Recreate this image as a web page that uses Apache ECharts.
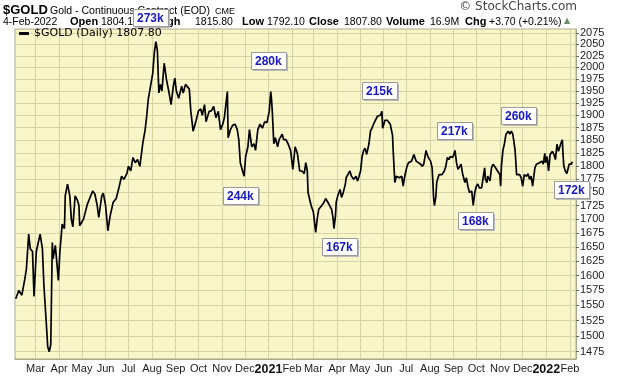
<!DOCTYPE html>
<html>
<head>
<meta charset="utf-8">
<script src="https://cdn.jsdelivr.net/npm/echarts@6/dist/echarts.min.js"></script>
<style>
html, body { margin: 0; padding: 0; background: #fff; }
#chart { width: 620px; height: 376px; }
</style>
</head>
<body>
<div id="chart"></div>
<script>
// $GOLD daily close
var dates = [
  '2020-02-04', '2020-02-08', '2020-02-12', '2020-02-16', '2020-02-18', '2020-02-21', '2020-02-23', '2020-02-26', '2020-02-28',
  '2020-03-02', '2020-03-07', '2020-03-10', '2020-03-12', '2020-03-15', '2020-03-17', '2020-03-19', '2020-03-21', '2020-03-23',
  '2020-03-24', '2020-03-27', '2020-03-31', '2020-04-02', '2020-04-05', '2020-04-08', '2020-04-09', '2020-04-12', '2020-04-15',
  '2020-04-17', '2020-04-19', '2020-04-22', '2020-04-25', '2020-04-27', '2020-04-28', '2020-05-03', '2020-05-08', '2020-05-15',
  '2020-05-18', '2020-05-21', '2020-05-23', '2020-05-27', '2020-05-29', '2020-06-01', '2020-06-04', '2020-06-07', '2020-06-11',
  '2020-06-15', '2020-06-19', '2020-06-22', '2020-06-25', '2020-06-29', '2020-07-01', '2020-07-04', '2020-07-07', '2020-07-10',
  '2020-07-13', '2020-07-16', '2020-07-20', '2020-07-23', '2020-07-25', '2020-07-27', '2020-07-30', '2020-08-02', '2020-08-04',
  '2020-08-06', '2020-08-08', '2020-08-10', '2020-08-12', '2020-08-14', '2020-08-17', '2020-08-20', '2020-08-23', '2020-08-26',
  '2020-08-29', '2020-08-31', '2020-09-02', '2020-09-05', '2020-09-09', '2020-09-11', '2020-09-14', '2020-09-19', '2020-09-21',
  '2020-09-24', '2020-09-26', '2020-09-28', '2020-10-01', '2020-10-04', '2020-10-06', '2020-10-09', '2020-10-11', '2020-10-15',
  '2020-10-18', '2020-10-21', '2020-10-24', '2020-10-27', '2020-10-30', '2020-11-02', '2020-11-04', '2020-11-08', '2020-11-09',
  '2020-11-12', '2020-11-15', '2020-11-18', '2020-11-21', '2020-11-23', '2020-11-25', '2020-11-28', '2020-11-30', '2020-12-02',
  '2020-12-05', '2020-12-07', '2020-12-10', '2020-12-13', '2020-12-15', '2020-12-18', '2020-12-21', '2020-12-24', '2020-12-27',
  '2020-12-30', '2021-01-02', '2021-01-04', '2021-01-05', '2021-01-06', '2021-01-08', '2021-01-10', '2021-01-13', '2021-01-15',
  '2021-01-19', '2021-01-21', '2021-01-24', '2021-01-27', '2021-01-30', '2021-02-02', '2021-02-05', '2021-02-08', '2021-02-11',
  '2021-02-14', '2021-02-17', '2021-02-19', '2021-02-21', '2021-02-22', '2021-02-25', '2021-02-26', '2021-03-01', '2021-03-04',
  '2021-03-06', '2021-03-08', '2021-03-12', '2021-03-15', '2021-03-17', '2021-03-20', '2021-03-25', '2021-03-27', '2021-03-28',
  '2021-03-30', '2021-03-31', '2021-04-02', '2021-04-05', '2021-04-07', '2021-04-09', '2021-04-12', '2021-04-13', '2021-04-15',
  '2021-04-18', '2021-04-20', '2021-04-23', '2021-04-26', '2021-04-28', '2021-04-30', '2021-05-02', '2021-05-04', '2021-05-06',
  '2021-05-08', '2021-05-10', '2021-05-13', '2021-05-15', '2021-05-17', '2021-05-19', '2021-05-21', '2021-05-24', '2021-05-26',
  '2021-05-28', '2021-05-30', '2021-05-31', '2021-06-03', '2021-06-06', '2021-06-08', '2021-06-10', '2021-06-13', '2021-06-14',
  '2021-06-16', '2021-06-18', '2021-06-20', '2021-06-22', '2021-06-25', '2021-06-27', '2021-06-29', '2021-07-02', '2021-07-04',
  '2021-07-08', '2021-07-11', '2021-07-12', '2021-07-14', '2021-07-16', '2021-07-20', '2021-07-22', '2021-07-24', '2021-07-27',
  '2021-07-28', '2021-07-30', '2021-08-02', '2021-08-04', '2021-08-05', '2021-08-06', '2021-08-07', '2021-08-09', '2021-08-10',
  '2021-08-13', '2021-08-15', '2021-08-17', '2021-08-20', '2021-08-22', '2021-08-24', '2021-08-26', '2021-08-28', '2021-08-31',
  '2021-09-02', '2021-09-03', '2021-09-05', '2021-09-07', '2021-09-09', '2021-09-11', '2021-09-13', '2021-09-16', '2021-09-18',
  '2021-09-20', '2021-09-22', '2021-09-25', '2021-09-27', '2021-09-29', '2021-10-01', '2021-10-03', '2021-10-05', '2021-10-08',
  '2021-10-10', '2021-10-12', '2021-10-13', '2021-10-15', '2021-10-16', '2021-10-19', '2021-10-21', '2021-10-23', '2021-10-25',
  '2021-10-27', '2021-10-29', '2021-11-01', '2021-11-02', '2021-11-03', '2021-11-05', '2021-11-07', '2021-11-09', '2021-11-12',
  '2021-11-14', '2021-11-16', '2021-11-18', '2021-11-19', '2021-11-21', '2021-11-23', '2021-11-25', '2021-11-27', '2021-11-29',
  '2021-12-01', '2021-12-03', '2021-12-06', '2021-12-08', '2021-12-10', '2021-12-12', '2021-12-14', '2021-12-17', '2021-12-19',
  '2021-12-21', '2021-12-23', '2021-12-26', '2021-12-28', '2021-12-30', '2021-12-31', '2022-01-02', '2022-01-04', '2022-01-06',
  '2022-01-09', '2022-01-11', '2022-01-13', '2022-01-15', '2022-01-17', '2022-01-20', '2022-01-22', '2022-01-23', '2022-01-24',
  '2022-01-26', '2022-01-28', '2022-01-31', '2022-02-01', '2022-02-03', '2022-02-04'
]
var closes = [
  1561, 1575, 1567, 1595, 1612, 1673, 1647, 1642, 1565,
  1642, 1673, 1647, 1583, 1523, 1483, 1475, 1486, 1658,
  1629, 1653, 1592, 1642, 1691, 1683, 1743, 1765, 1743,
  1700, 1686, 1743, 1735, 1725, 1688, 1700, 1727, 1752,
  1746, 1725, 1703, 1743, 1748, 1725, 1679, 1706, 1731,
  1738, 1761, 1780, 1774, 1785, 1799, 1790, 1816, 1806,
  1812, 1799, 1845, 1871, 1898, 1932, 1960, 1988, 2031,
  2056, 2038, 1946, 1964, 1950, 2009, 1974, 1950, 1922,
  1960, 1977, 1950, 1935, 1960, 1946, 1964, 1954, 1908,
  1868, 1871, 1890, 1909, 1913, 1900, 1922, 1887, 1908,
  1909, 1918, 1895, 1908, 1871, 1882, 1895, 1949, 1855,
  1871, 1880, 1882, 1871, 1851, 1806, 1790, 1780, 1818,
  1837, 1871, 1837, 1843, 1830, 1871, 1882, 1874, 1887,
  1885, 1908, 1949, 1933, 1908, 1843, 1855, 1837, 1851,
  1862, 1851, 1851, 1842, 1830, 1793, 1837, 1824, 1790,
  1790, 1785, 1806, 1790, 1749, 1731, 1725, 1713, 1676,
  1700, 1718, 1725, 1731, 1738, 1731, 1718, 1700, 1683,
  1706, 1731, 1743, 1755, 1740, 1748, 1765, 1777, 1780,
  1790, 1780, 1774, 1780, 1771, 1780, 1790, 1818, 1830,
  1834, 1822, 1843, 1868, 1874, 1882, 1885, 1898, 1895,
  1900, 1908, 1874, 1890, 1890, 1890, 1882, 1859, 1824,
  1768, 1780, 1780, 1777, 1780, 1761, 1780, 1799, 1806,
  1809, 1822, 1824, 1809, 1806, 1803, 1799, 1803, 1830,
  1824, 1816, 1809, 1796, 1768, 1738, 1725, 1743, 1768,
  1783, 1785, 1783, 1790, 1799, 1816, 1812, 1818, 1816,
  1824, 1830, 1806, 1793, 1796, 1803, 1785, 1768, 1777,
  1761, 1749, 1752, 1725, 1749, 1761, 1765, 1758, 1758,
  1755, 1796, 1774, 1768, 1780, 1771, 1796, 1803, 1799,
  1796, 1790, 1783, 1761, 1799, 1830, 1843, 1862, 1868,
  1862, 1868, 1862, 1851, 1830, 1783, 1780, 1783, 1777,
  1761, 1783, 1780, 1785, 1774, 1780, 1761, 1796, 1803,
  1800, 1806, 1809, 1803, 1824, 1806, 1818, 1790, 1822,
  1828, 1822, 1812, 1842, 1828, 1843, 1851, 1822, 1799,
  1790, 1785, 1803, 1806, 1803, 1807.8
]
var priceTicks = [1475, 1500, 1525, 1550, 1575, 1600, 1625, 1650, 1675, 1700, 1725, 1750, 1775,
  1800, 1825, 1850, 1875, 1900, 1925, 1950, 1975, 2000, 2025, 2050, 2075]
var monthTicks = ['2020-03-01', '2020-04-01', '2020-05-01', '2020-06-01', '2020-07-01', '2020-08-01',
  '2020-09-01', '2020-10-01', '2020-11-01', '2020-12-01', '2021-01-01', '2021-02-01', '2021-03-01',
  '2021-04-01', '2021-05-01', '2021-06-01', '2021-07-01', '2021-08-01', '2021-09-01', '2021-10-01',
  '2021-11-01', '2021-12-01', '2022-01-01', '2022-02-01']
var monthNames = ['Jan', 'Feb', 'Mar', 'Apr', 'May', 'Jun', 'Jul', 'Aug', 'Sep', 'Oct', 'Nov', 'Dec']
var volumeNotes = ['273k', '280k', '244k', '215k', '167k', '217k', '260k', '168k', '172k']

var myChart = echarts.init(document.getElementById('chart'))

function toTime (d) {
  return new Date(d + 'T00:00:00Z').getTime()
}

function noteBox (label, x, y) {
  return {
    type: 'group',
    x: x,
    y: y,
    children: [
      { type: 'rect', z: 100, shape: { x: 2, y: 2, width: 35, height: 17 }, style: { fill: '#b8b8b8' } },
      { type: 'rect', z: 101, shape: { x: 0.5, y: 0.5, width: 35, height: 17 }, style: { fill: '#fff', stroke: '#9a9a9a', lineWidth: 1 } },
      {
        type: 'text',
        z: 102,
        x: 4,
        y: 9.5,
        style: { text: label, fill: '#1818c0', fontSize: 12, fontWeight: 'bold', fontFamily: 'Liberation Sans', verticalAlign: 'middle' }
      }
    ]
  }
}

function headText (str, x, y, size, weight, color, align, family) {
  return {
    type: 'text',
    x: x,
    y: y,
    z: 50,
    style: {
      text: str,
      fill: color || '#000',
      fontSize: size,
      fontWeight: weight || 'normal',
      fontFamily: family || 'Liberation Sans',
      align: align || 'left',
      verticalAlign: 'middle'
    }
  }
}

function getGraphics () {
  var g = [
    headText('$GOLD', 3, 10.5, 13, 'bold'),
    headText('Gold - Continuous Contract (EOD)', 50, 11, 10.5),
    headText('CME', 215, 11.5, 9),
    headText('\u00a9 StockCharts.com', 577, 7, 12, 'normal', '#444', 'right', 'DejaVu Sans'),
    headText('4-Feb-2022', 3, 22, 10.5),
    headText('Open', 70, 22, 11, 'bold'),
    headText('1804.10', 101, 22, 10.5),
    headText('High', 156, 22, 11, 'bold'),
    headText('1815.80', 195, 22, 10.5),
    headText('Low', 242, 22, 11, 'bold'),
    headText('1792.10', 267, 22, 10.5),
    headText('Close', 309, 22, 11, 'bold'),
    headText('1807.80', 344, 22, 10.5),
    headText('Volume', 386, 22, 11, 'bold'),
    headText('16.9M', 430, 22, 10.5),
    headText('Chg', 465, 22, 11, 'bold'),
    headText('+3.70 (+0.21%)', 489, 22, 10.5),
    headText('\u25b2', 564, 21, 8, 'normal', '#6b8a6b', 'left', 'DejaVu Sans')
  ]
  var spots = [[133, 9], [251, 52], [223, 187], [362, 82], [322, 238], [437, 122], [501, 107], [458, 212], [554, 181]]
  volumeNotes.forEach(function (label, i) {
    g.push(noteBox(label, spots[i][0], spots[i][1]))
  })
  return g
}

function getChartData () {
  var data = dates.map(function (d, i) {
    return [toTime(d), Math.log(closes[i])]
  })
  var logTicks = priceTicks.map(function (v) { return Math.log(v) })
  var timeTicks = monthTicks.map(toTime)
  return {
    animation: false,
    backgroundColor: '#fff',
    grid: {
      left: 15,
      top: 29,
      width: 561,
      height: 331,
      show: true,
      backgroundColor: '#f9f7c9',
      borderColor: '#a9a98a',
      borderWidth: 1
    },
    legend: {
      left: 19,
      top: 28,
      padding: [0, 0],
      icon: 'rect',
      itemWidth: 10,
      itemHeight: 3,
      itemGap: 4,
      textStyle: { fontFamily: 'DejaVu Sans', fontSize: 11, color: '#000' }
    },
    xAxis: {
      type: 'value',
      min: toTime('2020-02-03'),
      max: toTime('2022-02-09'),
      axisLine: { show: true, lineStyle: { color: '#a9a98a' } },
      axisTick: { show: false, customValues: timeTicks },
      axisLabel: {
        customValues: timeTicks,
        showMinLabel: true,
        showMaxLabel: true,
        hideOverlap: false,
        margin: 4,
        color: '#222',
        fontFamily: 'Liberation Sans',
        fontSize: 11,
        formatter: function (v) {
          var d = new Date(v)
          if (d.getUTCMonth() === 0) {
            return '{yr|' + d.getUTCFullYear() + '}'
          }
          return monthNames[d.getUTCMonth()]
        },
        rich: {
          yr: { fontWeight: 'bold', fontSize: 12.5, fontFamily: 'Liberation Sans', color: '#111' }
        }
      },
      splitLine: { show: true, lineStyle: { color: '#d6d4a2', width: 1 } }
    },
    yAxis: {
      type: 'value',
      position: 'right',
      min: Math.log(1463.5),
      max: Math.log(2084),
      axisLine: { show: true, lineStyle: { color: '#a9a98a' } },
      axisTick: { show: true, length: 3, customValues: logTicks, lineStyle: { color: '#666' } },
      axisLabel: {
        customValues: logTicks,
        showMinLabel: true,
        showMaxLabel: true,
        margin: 4,
        color: '#222',
        fontFamily: 'Liberation Sans',
        fontSize: 11,
        formatter: function (v) {
          return String(Math.round(Math.exp(v)))
        }
      },
      splitLine: { show: true, lineStyle: { color: '#d6d4a2', width: 1 } }
    },
    series: [
      {
        name: '$GOLD (Daily) 1807.80',
        type: 'line',
        showSymbol: false,
        symbol: 'none',
        lineStyle: { color: '#000', width: 1.7 },
        itemStyle: { color: '#000' },
        data: data
      }
    ],
    graphic: getGraphics()
  }
}

function setChart () {
  myChart.setOption(getChartData())
}

setChart()
</script>
</body>
</html>
